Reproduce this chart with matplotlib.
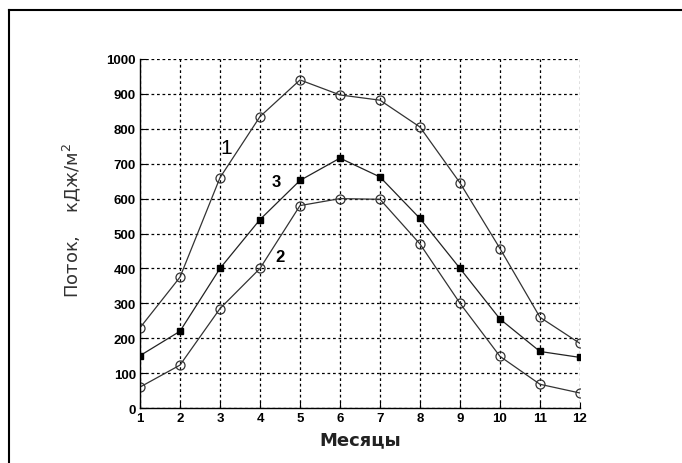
import matplotlib
matplotlib.use('Agg')
import matplotlib.pyplot as plt
from matplotlib.lines import Line2D

months = [1, 2, 3, 4, 5, 6, 7, 8, 9, 10, 11, 12]
curve1 = [230, 375, 660, 835, 940, 897, 882, 805, 645, 457, 260, 185]
curve2 = [60, 123, 285, 400, 580, 600, 598, 470, 300, 148, 68, 43]
curve3 = [150, 220, 400, 540, 652, 716, 662, 543, 400, 255, 162, 145]
yticks = [0, 100, 200, 300, 400, 500, 600, 700, 800, 900, 1000]

plt.rcParams['font.family'] = ['Liberation Sans', 'DejaVu Sans']

fig = plt.figure(figsize=(6.82, 4.64), dpi=100)
ax = fig.add_axes([0.2053, 0.1185, 0.6451, 0.7522])

ax.plot(months, curve1, color='#333333', lw=0.9, marker='o', ms=6.5,
        mfc='none', mec='#333333', mew=0.9)
ax.plot(months, curve2, color='#333333', lw=0.9, marker='o', ms=6.5,
        mfc='none', mec='#333333', mew=0.9)
ax.plot(months, curve3, color='#222222', lw=0.9, marker='s', ms=5,
        mfc='black', mec='black')

ax.text(3.15, 745, '1', fontsize=15, ha='center', va='center')
ax.text(4.4, 648, '3', fontsize=12, fontweight='bold', ha='center', va='center')
ax.text(4.5, 435, '2', fontsize=12, fontweight='bold', ha='center', va='center')

ax.set_xlim(1, 12)
ax.set_ylim(0, 1000)
ax.set_xticks(months)
ax.set_yticks(yticks)
ax.tick_params(direction='in', length=4, width=0.8, labelsize=9.5, pad=3)
for lab in ax.get_xticklabels() + ax.get_yticklabels():
    lab.set_fontweight('bold')

ax.grid(True, color='black', linestyle=(0, (2.2, 2.2)), lw=0.9)
ax.spines['top'].set_visible(False)
ax.spines['right'].set_visible(False)
ax.spines['left'].set_linewidth(1.0)
ax.spines['bottom'].set_linewidth(1.0)

ax.set_xlabel('Месяцы', fontsize=13, fontweight='bold', labelpad=4,
              family='DejaVu Sans', color='#222222')
ax.set_ylabel('Поток,    кДж/м$^2$', fontsize=13, labelpad=0,
              family='DejaVu Sans', color='#333333')
ax.yaxis.set_label_coords(-0.13, 0.54)

# outer frame
fig.add_artist(Line2D([9/682, 9/682], [0, 1 - 11/464], color='black', lw=1.5,
                      transform=fig.transFigure))
fig.add_artist(Line2D([9/682, 1], [1 - 11/464, 1 - 11/464], color='black', lw=1.5,
                      transform=fig.transFigure))

fig.savefig('out.png', dpi=100)
